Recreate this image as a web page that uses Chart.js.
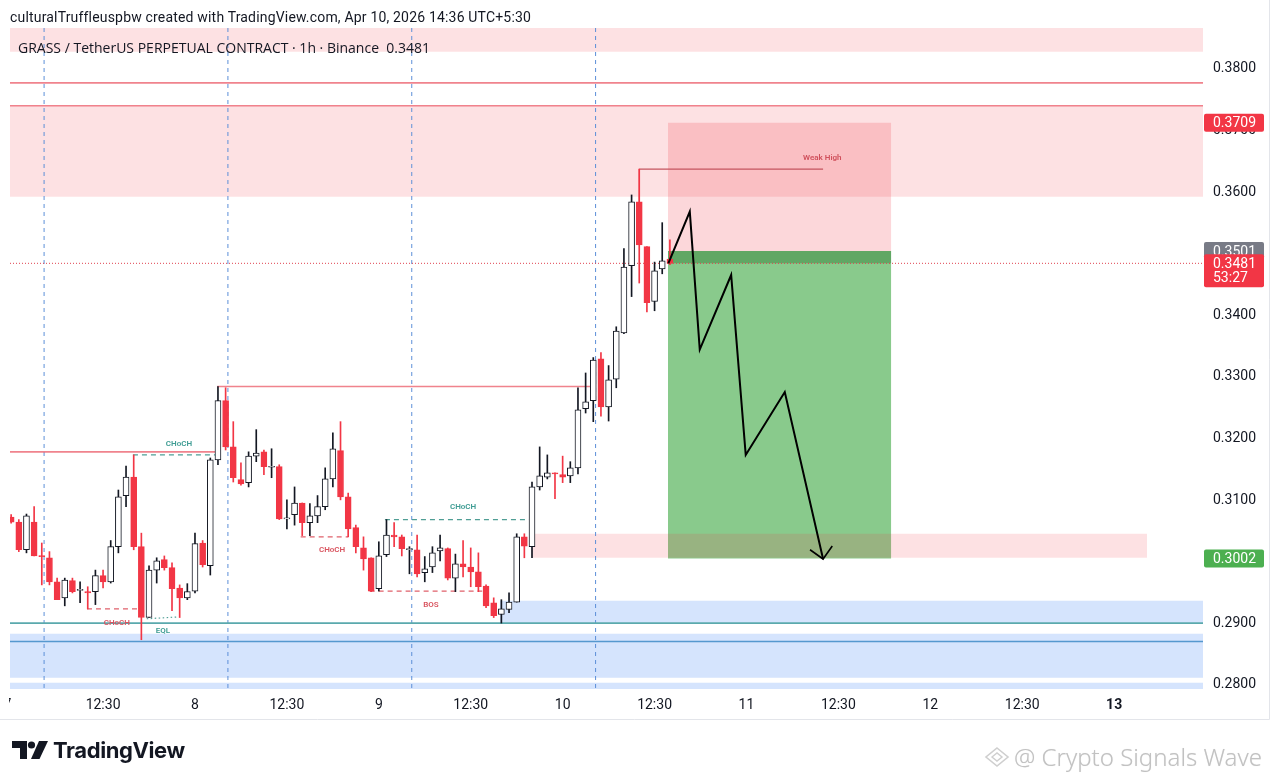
<!DOCTYPE html>
<html><head><meta charset="utf-8">
<script src="https://cdn.jsdelivr.net/npm/chart.js@4.4.1/dist/chart.umd.min.js"></script>
<style>
html,body{margin:0;padding:0;background:#fff;width:1280px;height:782px;overflow:hidden;font-family:Roboto,"Noto Sans",sans-serif;}
#wrap{position:relative;width:1280px;height:782px;}
#c{position:absolute;left:0;top:0;}
.hdr{position:absolute;left:10px;top:9px;font-size:14px;letter-spacing:0.18px;color:#131722;white-space:nowrap;}
.ttl{position:absolute;left:18px;top:38px;font-family:"Open Sans",Roboto,sans-serif;font-size:14px;font-weight:500;color:#131722;white-space:nowrap;}
.cut{position:absolute;left:0;top:691px;width:9px;height:26px;background:#fff;}
.logo{position:absolute;left:12px;top:736px;height:28px;display:flex;align-items:center;}
.logo span{font-family:Inter,Roboto,sans-serif;font-weight:700;font-size:22px;color:#131722;margin-left:5px;letter-spacing:-0.4px;}
.wm{position:absolute;left:984px;top:740px;display:flex;align-items:center;white-space:nowrap;}
.wm span{font-family:"Noto Sans",sans-serif;font-weight:300;font-size:24px;color:#c2c2c2;margin-left:4px;text-shadow:0 0 1px #e6e6e6;}
</style></head><body>
<div id="wrap">
<canvas id="c" width="1280" height="782"></canvas>
<div class="hdr">culturalTruffleuspbw created with TradingView.com, Apr 10, 2026 14:36 UTC+5:30</div>
<div class="ttl">GRASS / TetherUS PERPETUAL CONTRACT · 1h · Binance&nbsp;&nbsp;0.3481</div>
<div class="cut"></div>
<div class="logo"><svg width="36" height="20" viewBox="0 0 36 20"><path d="M0 1H15V19H8V8H0Z" fill="#131722"/><circle cx="19.5" cy="5" r="3.6" fill="#131722"/><path d="M27 1H36L27.5 19H19Z" fill="#131722"/></svg><span>TradingView</span></div>
<div class="wm"><svg width="26" height="22" viewBox="0 0 26 22"><path d="M13 2L24 11L13 20L2 11Z" fill="none" stroke="#cfcfcf" stroke-width="1.6"/><path d="M8 11L13 7L18 11L13 15Z" fill="none" stroke="#cfcfcf" stroke-width="1.4"/></svg><span>@ Crypto Signals Wave</span></div>
</div>
<script>
// ---------- DATA ----------
// hourly candles, first candle opens 7 Apr 00:30 (UTC+5:30); x axis unit = hours since 7 Apr 00:00
const firstCandleHour = 0.5;
const candleOpen  = [0.3069,0.3061,0.3016,0.3061,0.3006,0.3003,0.2964,0.2938,0.2966,0.2950,0.2948,0.2948,0.2974,0.2964,0.3021,0.3104,0.3134,0.3021,0.2906,0.2983,0.3000,0.2987,0.2954,0.2938,0.2949,0.3027,0.2990,0.3162,0.3258,0.3183,0.3130,0.3125,0.3168,0.3175,0.3150,0.3151,0.3066,0.3073,0.3092,0.3060,0.3071,0.3086,0.3131,0.3177,0.3102,0.3052,0.3019,0.3003,0.2953,0.3008,0.3040,0.3037,0.3016,0.3016,0.2979,0.2988,0.3014,0.3018,0.2970,0.2993,0.2988,0.2980,0.2957,0.2930,0.2911,0.2919,0.2931,0.3037,0.3021,0.3118,0.3134,0.3141,0.3138,0.3136,0.3149,0.3245,0.3258,0.3326,0.3248,0.3293,0.3368,0.3477,0.3581,0.3508,0.3419,0.3472,0.3488];
const candleHigh  = [0.3073,0.3065,0.3074,0.3086,0.3027,0.3013,0.2970,0.2970,0.2970,0.2964,0.2956,0.2983,0.2983,0.3031,0.3113,0.3152,0.3170,0.3043,0.2990,0.3003,0.3006,0.2995,0.2959,0.2961,0.3043,0.3031,0.3165,0.3281,0.3279,0.3224,0.3157,0.3175,0.3211,0.3178,0.3180,0.3154,0.3097,0.3118,0.3092,0.3091,0.3104,0.3149,0.3206,0.3224,0.3108,0.3056,0.3037,0.3003,0.3029,0.3065,0.3060,0.3040,0.3021,0.3040,0.3005,0.3021,0.3040,0.3019,0.3009,0.3031,0.3019,0.3011,0.2959,0.2938,0.2935,0.2946,0.3042,0.3042,0.3126,0.3183,0.3170,0.3141,0.3168,0.3159,0.3279,0.3303,0.3328,0.3336,0.3315,0.3378,0.3505,0.3592,0.3634,0.3508,0.3483,0.3547,0.3519];
const candleLow   = [0.3059,0.3013,0.3011,0.3006,0.2959,0.2959,0.2935,0.2925,0.2946,0.2930,0.2920,0.2927,0.2954,0.2962,0.3011,0.3086,0.3016,0.2870,0.2906,0.2962,0.2983,0.2917,0.2906,0.2935,0.2946,0.2988,0.2975,0.3154,0.3178,0.3126,0.3121,0.3118,0.3159,0.3138,0.3133,0.3065,0.3050,0.3056,0.3039,0.3039,0.3060,0.3081,0.3118,0.3097,0.3037,0.3011,0.2983,0.2948,0.2949,0.3005,0.3021,0.3006,0.2977,0.2972,0.2964,0.2979,0.2998,0.2967,0.2948,0.2972,0.2956,0.2948,0.2922,0.2906,0.2897,0.2914,0.2931,0.3003,0.3003,0.3113,0.3131,0.3099,0.3125,0.3125,0.3139,0.3238,0.3224,0.3233,0.3225,0.3279,0.3367,0.3427,0.3449,0.3402,0.3404,0.3464,0.3479];
const candleClose = [0.3061,0.3016,0.3071,0.3006,0.3005,0.2964,0.2935,0.2967,0.2948,0.2951,0.2946,0.2974,0.2964,0.3021,0.3102,0.3134,0.3021,0.2906,0.2983,0.2998,0.2987,0.2953,0.2938,0.2948,0.3026,0.2992,0.3162,0.3258,0.3183,0.3133,0.3123,0.3168,0.3173,0.3151,0.3151,0.3066,0.3068,0.3092,0.3060,0.3071,0.3086,0.3131,0.3180,0.3102,0.3050,0.3021,0.3001,0.2949,0.3006,0.3040,0.3037,0.3018,0.3018,0.2977,0.2985,0.3011,0.3019,0.2970,0.2993,0.2988,0.2980,0.2956,0.2925,0.2909,0.2920,0.2931,0.3037,0.3022,0.3118,0.3136,0.3141,0.3139,0.3134,0.3149,0.3243,0.3256,0.3324,0.3248,0.3292,0.3371,0.3475,0.3581,0.3511,0.3417,0.3469,0.3485,0.3481];

// axes
const xRange = [0.35, 156.1];
const yRange = [0.2790, 0.3863];
const hourTicks = [0, 12.5, 24.5, 36.5, 48.5, 60.5, 72.5, 84.5, 96.5, 108.5, 120.5, 132.5, 144.5];
const hourTickLabels = ['7','12:30','8','12:30','9','12:30','10','12:30','11','12:30','12','12:30','13'];
const priceTicks = [0.28,0.29,0.30,0.31,0.32,0.33,0.34,0.35,0.36,0.37,0.38];

// drawings: [startHour, endHour, topPrice, bottomPrice]
const supplyZones = [[0.35,156.1,0.3875,0.38244],[0.35,156.1,0.37367,0.3589],[68.4,148.8,0.30419,0.30029]];
const demandZones = [[64.3,156.1,0.29334,0.28974],[0.35,156.1,0.28795,0.28081],[0.35,156.1,0.2800,0.2780]];
// [startHour, endHour, price]
const resistanceLines = [[0.35,156.1,0.3774],[0.35,156.1,0.37367],[0.35,27.4,0.3175],[27.4,76.3,0.3281]];
const weakHighLine = [[82.5,0.3634],[106.5,0.3634]];
const tealDashedLines = [[16.4,27.4,0.3170],[49.3,68.5,0.3065]];
const redDashedLines = [[10.4,17.3,0.2920],[38.3,44.5,0.3037],[47.3,62.0,0.2949]];
const eqlLine = [[18.2,0.2904],[22.3,0.2907]];
const tealLevel = 0.2897;
const blueLevel = 0.2867;
const sessionBreaks = [4.8, 28.8, 52.8, 76.8];
// short position
const positionTimes = [86.25, 115.4];
const stopPrice = 0.3709, entryPrice = 0.3501, targetPrice = 0.3002, lastPrice = 0.3481;
const countdown = '53:27';
const projectedPath = [[86.3,0.3481],[89.1,0.3565],[90.4,0.3341],[94.5,0.3462],[96.4,0.3170],[101.5,0.3272],[106.5,0.3001]];
const arrowHead = [[104.8,0.3016],[106.5,0.3001],[107.7,0.3022]];
// text labels [text, hour, price]
const tealLabels = [['CHoCH',22.4,0.3188],['EQL',20.3,0.2884],['CHoCH',59.5,0.3086]];
const redLabels = [['CHoCH',14.3,0.2897],['CHoCH',42.4,0.3016],['BOS',55.3,0.2927]];
const weakHighLabel = ['Weak High',106.4,0.3652];

// ---------- BUILD ----------
const RED = '#f23645', INK = '#131722';
const bull = candleOpen.map((o,i)=>candleClose[i] >= o);
const candleX = candleOpen.map((_,i)=>firstCandleHour + i);

function zoneDS(z, color, order){
  return {type:'line', data:[{x:z[0],y:z[2]},{x:z[1],y:z[2]}], fill:{value:z[3]},
    backgroundColor:color, borderColor:'rgba(0,0,0,0)', borderWidth:0, pointRadius:0, order};
}
function lineDS(pts, color, width, dash, order){
  return {type:'line', data:pts.map(p=>({x:p[0],y:p[1]})), borderColor:color, borderWidth:width,
    borderDash:dash||[], pointRadius:0, fill:false, tension:0, order};
}
const datasets = [];
datasets.push({type:'bar', grouped:false, order:1, barThickness:6, minBarLength:1, borderSkipped:false,
  data:candleX.map((x,i)=>({x, y:[candleOpen[i], candleClose[i]]})),
  backgroundColor:bull.map(b=>b?'#ffffff':RED), borderColor:bull.map(b=>b?INK:RED), borderWidth:1});
datasets.push({type:'bar', grouped:false, order:2, barThickness:1, borderSkipped:false,
  data:candleX.map((x,i)=>({x, y:[candleLow[i], candleHigh[i]]})),
  backgroundColor:bull.map(b=>b?INK:RED), borderWidth:0});
datasets.push(zoneDS([positionTimes[0],positionTimes[1],entryPrice,targetPrice],'rgba(76,175,80,0.66)',30));
datasets.push(zoneDS([positionTimes[0],positionTimes[1],stopPrice,entryPrice],'rgba(242,54,69,0.2)',29));
datasets.push(zoneDS([positionTimes[0],positionTimes[1],entryPrice,lastPrice],'rgba(46,125,50,0.45)',28));
supplyZones.forEach(z=>datasets.push(zoneDS(z,'rgba(242,54,69,0.15)',27)));
demandZones.forEach(z=>datasets.push(zoneDS(z,'rgba(66,133,244,0.22)',26)));
sessionBreaks.forEach(h=>datasets.push(lineDS([[h,yRange[1]],[h,yRange[0]]],'#5c8fd8',1,[4,4],20)));
resistanceLines.forEach(l=>datasets.push(lineDS([[l[0],l[2]],[l[1],l[2]]],'rgba(236,100,112,0.8)',1.6,[],15)));
datasets.push(lineDS(weakHighLine,'#c4545f',1.2,[],15));
datasets.push(lineDS([[weakHighLine[0][0],weakHighLine[0][1]],[weakHighLine[0][0],candleOpen[82]]],'rgba(236,100,112,0.9)',1.2,[],15));
tealDashedLines.forEach(l=>datasets.push(lineDS([[l[0],l[2]],[l[1],l[2]]],'#4f9e95',1.3,[5,4],15)));
redDashedLines.forEach(l=>datasets.push(lineDS([[l[0],l[2]],[l[1],l[2]]],'#e0606b',1.3,[5,4],15)));
datasets.push(lineDS(eqlLine,'#4f9e95',1.2,[1.5,2.5],15));
datasets.push(lineDS([[xRange[0],tealLevel],[xRange[1],tealLevel]],'#5aa9ad',1.6,[],15));
datasets.push(lineDS([[xRange[0],blueLevel],[xRange[1],blueLevel]],'#5598cf',1.6,[],15));
datasets.push(lineDS([[xRange[0],lastPrice],[xRange[1],lastPrice]],'#e0414f',1,[1,2],14));
datasets.push(lineDS(projectedPath,'#000000',2,[],0));
datasets.push(lineDS(arrowHead,'#000000',1.6,[],0));

const annotate = {
  id:'annotate',
  afterDatasetsDraw(chart){
    const {ctx, scales:{x,y}} = chart;
    ctx.save();
    ctx.beginPath(); ctx.rect(chart.chartArea.left, chart.chartArea.top, chart.chartArea.width, chart.chartArea.height); ctx.clip();
    ctx.font = '600 8px Roboto, sans-serif'; ctx.textAlign='center'; ctx.textBaseline='middle';
    ctx.fillStyle = '#3e9c93';
    tealLabels.forEach(l=>ctx.fillText(l[0], x.getPixelForValue(l[1]), y.getPixelForValue(l[2])));
    ctx.fillStyle = '#d9545f';
    redLabels.forEach(l=>ctx.fillText(l[0], x.getPixelForValue(l[1]), y.getPixelForValue(l[2])));
    ctx.fillStyle = '#d0505c';
    ctx.fillText(weakHighLabel[0], x.getPixelForValue(weakHighLabel[1]), y.getPixelForValue(weakHighLabel[2]));
    ctx.restore();
  },
  afterDraw(chart){
    const {ctx, scales:{y}} = chart;
    const L = y.left + 1, W = 60;
    ctx.save();
    ctx.font = '14px Roboto, sans-serif'; ctx.textBaseline='middle'; ctx.textAlign='left';
    function box(price, color, lines){
      const py = y.getPixelForValue(price);
      const h = lines.length===1 ? 18 : 33;
      ctx.fillStyle = color;
      ctx.beginPath(); ctx.roundRect(L, py-9, W, h, 2); ctx.fill();
      ctx.fillStyle = '#ffffff';
      lines.forEach((t,k)=>ctx.fillText(t, L+9, py + 1 + k*14));
    }
    box(stopPrice, RED, [stopPrice.toFixed(4)]);
    box(entryPrice, '#787b86', [entryPrice.toFixed(4)]);
    box(lastPrice, RED, [lastPrice.toFixed(4), countdown]);
    box(targetPrice, '#4caf50', [targetPrice.toFixed(4)]);
    ctx.strokeStyle = '#e3e5ea'; ctx.lineWidth = 1;
    ctx.beginPath(); ctx.moveTo(y.right-0.5, 0); ctx.lineTo(y.right-0.5, chart.scales.x.bottom+0.5);
    ctx.lineTo(0, chart.scales.x.bottom+0.5); ctx.stroke();
    ctx.restore();
  }
};

new Chart(document.getElementById('c'), {
  type:'bar',
  data:{datasets},
  options:{
    responsive:false, animation:false, events:[],
    layout:{padding:{left:10, top:28, right:10, bottom:63}},
    plugins:{legend:{display:false}, tooltip:{enabled:false}},
    scales:{
      x:{type:'linear', min:xRange[0], max:xRange[1], offset:false,
        grid:{display:false, drawTicks:false}, border:{display:false},
        afterBuildTicks:s=>{s.ticks = hourTicks.map(v=>({value:v}));},
        afterFit:s=>{s.height = 30; s.paddingLeft = 0; s.paddingRight = 0;},
        ticks:{autoSkip:false, maxRotation:0, padding:8, color:INK,
          font:c=>({family:'Roboto', size:14, weight:(c.tick && hourTickLabels[hourTicks.indexOf(c.tick.value)]==='13')?'bold':'normal'}),
          callback:v=>hourTickLabels[hourTicks.indexOf(v)]}},
      y:{type:'linear', position:'right', min:yRange[0], max:yRange[1],
        grid:{display:false, drawTicks:false}, border:{display:false},
        afterBuildTicks:s=>{s.ticks = priceTicks.map(v=>({value:v}));},
        afterFit:s=>{s.width = 67; s.paddingTop = 0; s.paddingBottom = 0;},
        ticks:{padding:10, labelOffset:2, color:INK, font:{family:'Roboto', size:14}, callback:v=>v.toFixed(4)}}
    }
  },
  plugins:[annotate]
});
</script>
</body></html>
